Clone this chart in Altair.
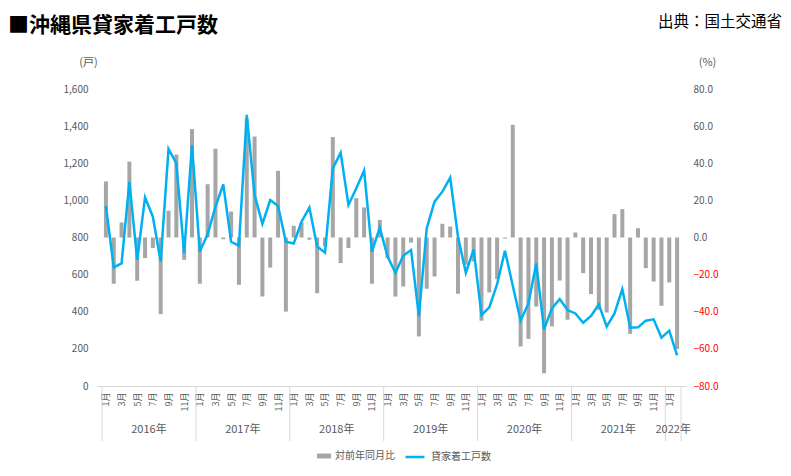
#!/usr/bin/env python3
"""Okinawa rental housing starts chart
"""
import altair as alt
import pandas as pd

OUTPUT_FILE = 'out.html'
FONT = 'Noto Sans CJK JP'
TEXT_GREY = '#595959'
LINE_GREY = '#d9d9d9'

TITLE = '■沖縄県貸家着工戸数'
SOURCE = '出典：国土交通省'
BAR_NAME = '対前年同月比'
LINE_NAME = '貸家着工戸数'

years = [2016, 2017, 2018, 2019, 2020, 2021, 2022]
months_per_year = [12, 12, 12, 12, 12, 12, 2]

# 貸家着工戸数 (戸)
starts = [
    970, 639, 660, 1100, 679, 1016, 912, 670, 1277, 1200, 715, 1298,
    724, 817, 966, 1086, 777, 756, 1461, 1029, 873, 1002, 970, 777,
    768, 885, 961, 751, 718, 1172, 1257, 975, 1065, 1160, 724, 853,
    697, 610, 702, 733, 377, 849, 993, 1047, 1122, 804, 610, 736,
    382, 424, 549, 729, 540, 352, 445, 660, 305, 418, 469, 409,
    391, 341, 377, 440, 320, 391, 522, 314, 316, 352, 359, 260,
    298, 165,
]

# 対前年同月比 (%)
yoy = [
    30.2, -24.9, 8.1, 40.9, -23.3, -11.1, -5.7, -41.3, 14.4, 44.7, -12.0, 58.4,
    -24.9, 28.7, 47.8, -0.9, 14.0, -25.5, 64.0, 54.4, -31.8, -16.2, 35.9, -39.9,
    6.3, 8.1, -1.2, -30.0, -4.8, 54.1, -13.8, -5.7, 21.2, 16.2, -24.9, 9.5,
    -11.1, -31.8, -26.4, -2.7, -53.3, -27.6, -21.0, 7.4, 5.9, -30.3, -14.7, -12.9,
    -44.8, -29.6, -22.4, -0.6, 60.7, -58.7, -54.6, -37.2, -73.1, -47.9, -23.2, -44.3,
    2.7, -19.2, -30.5, -38.9, -40.4, 12.6, 15.3, -51.9, 5.0, -16.5, -23.7, -36.8,
    -24.2, -60.1,
]

left_ticks = [0, 200, 400, 600, 800, 1000, 1200, 1400, 1600]
right_ticks = [-80, -60, -40, -20, 0, 20, 40, 60, 80]

W, H = 589, 297

# monthly table
rows = []
for y, n in zip(years, months_per_year):
    for m in range(1, n + 1):
        rows.append({'year': y, 'month': m})
df = pd.DataFrame(rows)
df['idx'] = range(len(df))
df['starts'] = starts
df['yoy'] = yoy
df['bar_series'] = BAR_NAME
df['line_series'] = LINE_NAME
total = len(df)

# year blocks under the axis (x position kept in an 'idx' column too)
blocks = pd.DataFrame({'year': years, 'n': months_per_year})
blocks['start'] = blocks['n'].cumsum() - blocks['n']
blocks['idx'] = blocks['start'] + (blocks['n'] - 1) / 2
blocks['label'] = blocks['year'].astype(str) + '年'
edges = pd.DataFrame({'idx': list(blocks['start'] - 0.5) + [total - 0.5]})

x_scale = alt.Scale(domain=[-0.5, total - 0.5], nice=False, zero=False)

x_axis = alt.Axis(
    values=list(range(0, total, 2)),
    labelExpr="(datum.value % 12 + 1) + '月'",
    labelAngle=270, labelAlign='right', labelBaseline='middle',
    labelFont=FONT, labelFontSize=9, labelColor=TEXT_GREY,
    labelPadding=6, labelFlush=False, labelOverlap=False,
    ticks=False, grid=False, domainColor=LINE_GREY, title=None,
)
x_enc = alt.X('idx:Q', scale=x_scale, axis=x_axis)

bars = alt.Chart(df).mark_bar(size=4).encode(
    x=x_enc,
    y=alt.Y(
        'yoy:Q',
        scale=alt.Scale(domain=[-80, 80], nice=False),
        axis=alt.Axis(
            orient='right', values=right_ticks, format='.1f',
            labelColor={'expr': "datum.value < 0 ? '#ff0000' : '#595959'"},
            labelFont=FONT, labelFontSize=10, labelPadding=7,
            domain=False, ticks=False, grid=False,
            title='(%)', titleAngle=0, titleX=21, titleY=-27,
            titleAlign='center', titleBaseline='middle',
            titleFont=FONT, titleFontSize=11, titleFontWeight='normal',
            titleColor=TEXT_GREY,
        )
    ),
    fill=alt.Fill(
        'bar_series:N',
        scale=alt.Scale(domain=[BAR_NAME], range=['#a6a6a6']),
        legend=alt.Legend(
            orient='none', legendX=220, legendY=360, title=None,
            symbolType='M-1,-0.35L1,-0.35L1,0.35L-1,0.35Z', symbolSize=196,
            symbolStrokeWidth=0, labelOffset=4,
            labelFont=FONT, labelFontSize=10, labelColor=TEXT_GREY,
        )
    ),
)

line = alt.Chart(df).mark_line(strokeWidth=2.5).encode(
    x=x_enc,
    y=alt.Y(
        'starts:Q',
        scale=alt.Scale(domain=[0, 1600], nice=False),
        axis=alt.Axis(
            orient='left', values=left_ticks, format=',d',
            labelFont=FONT, labelFontSize=10, labelColor=TEXT_GREY,
            labelPadding=9, domain=False, ticks=False, grid=False,
            title='(戸)', titleAngle=0, titleX=-9, titleY=-27,
            titleAlign='center', titleBaseline='middle',
            titleFont=FONT, titleFontSize=11, titleFontWeight='normal',
            titleColor=TEXT_GREY,
        )
    ),
    stroke=alt.Stroke(
        'line_series:N',
        scale=alt.Scale(domain=[LINE_NAME], range=['#00b0f0']),
        legend=alt.Legend(
            orient='none', legendX=307, legendY=357, title=None,
            symbolType='stroke', symbolSize=361, symbolStrokeWidth=2.5,
            labelOffset=5,
            labelFont=FONT, labelFontSize=10, labelColor=TEXT_GREY,
        )
    ),
)

dividers = alt.Chart(edges).mark_rule(color=LINE_GREY).encode(
    x=x_enc,
    y=alt.value(H),
    y2=alt.value(H + 55),
)

year_text = alt.Chart(blocks).mark_text(
    font=FONT, fontSize=11, color=TEXT_GREY, baseline='middle'
).encode(
    x=x_enc,
    y=alt.value(H + 44),
    text='label:N',
)

# header texts sit on their baselines, low enough for the font's full ascent
title = alt.Chart(pd.DataFrame({'t': [TITLE]})).mark_text(
    font=FONT, fontSize=21, fontWeight='bold', color='#000000',
    align='left', baseline='alphabetic'
).encode(x=alt.value(-89), y=alt.value(-57), text='t:N')

source = alt.Chart(pd.DataFrame({'t': [SOURCE]})).mark_text(
    font=FONT, fontSize=15.5, color='#000000',
    align='right', baseline='alphabetic'
).encode(x=alt.value(685), y=alt.value(-62), text='t:N')

chart = alt.layer(
    bars, line, dividers, year_text, title, source
).resolve_scale(
    y='independent'
).properties(
    width=W, height=H,
    padding={'left': 89, 'top': 81, 'right': 97, 'bottom': 80},
    autosize=alt.AutoSizeParams(type='none'),
).configure_view(stroke=None)

chart.save(OUTPUT_FILE, embed_options={'renderer': 'svg', 'actions': False})
